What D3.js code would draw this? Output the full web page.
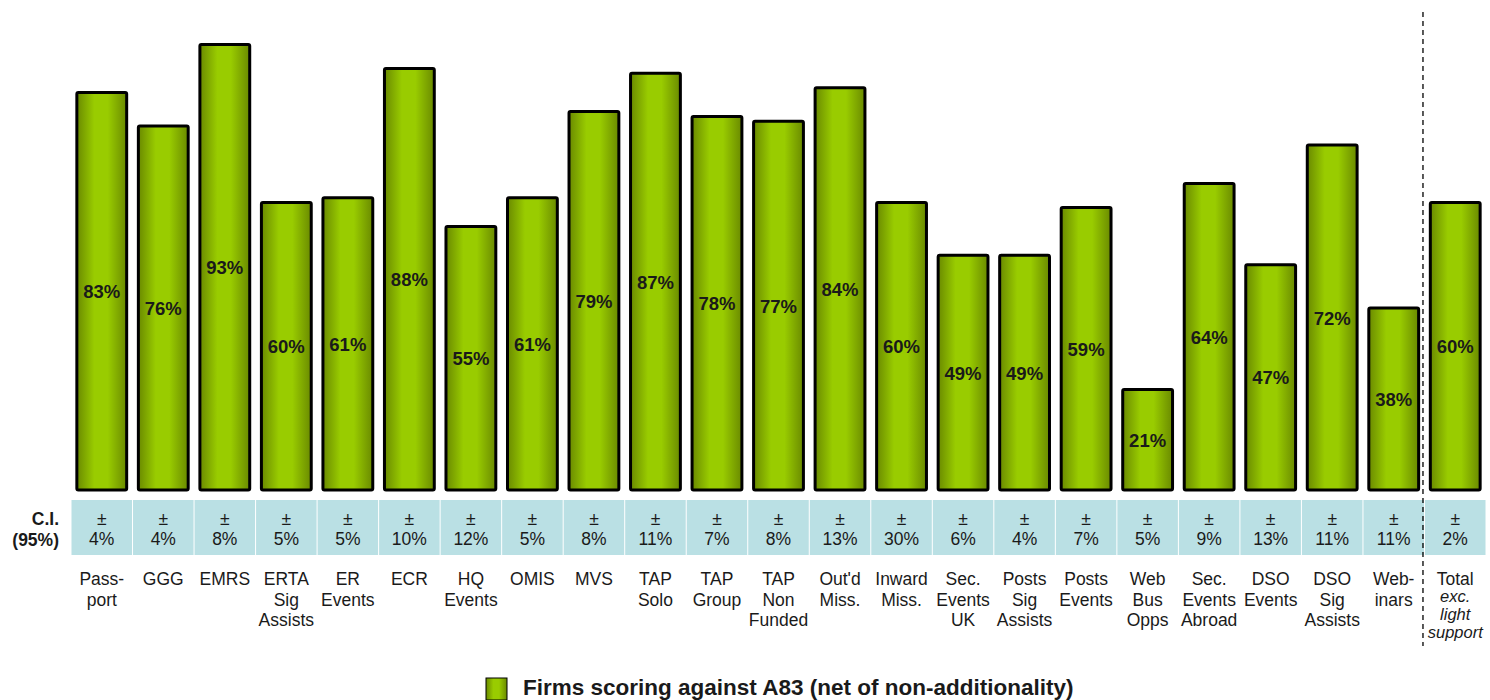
<!DOCTYPE html>
<html>
<head>
<meta charset="utf-8">
<script src="https://cdn.jsdelivr.net/npm/d3@7"></script>
<style>
  html, body { margin: 0; padding: 0; background: #fff; overflow: hidden; }
  svg { display: block; font-family: "Liberation Sans", Arial, sans-serif; }
</style>
</head>
<body>
<svg id="chart" width="1490" height="700"></svg>
<script>
// Programme categories (each entry is the list of label lines)
const categories = [
  ["Pass-", "port"], ["GGG"], ["EMRS"], ["ERTA", "Sig", "Assists"], ["ER", "Events"],
  ["ECR"], ["HQ", "Events"], ["OMIS"], ["MVS"], ["TAP", "Solo"], ["TAP", "Group"],
  ["TAP", "Non", "Funded"], ["Out'd", "Miss."], ["Inward", "Miss."], ["Sec.", "Events", "UK"],
  ["Posts", "Sig", "Assists"], ["Posts", "Events"], ["Web", "Bus", "Opps"], ["Sec.", "Events", "Abroad"],
  ["DSO", "Events"], ["DSO", "Sig", "Assists"], ["Web-", "inars"], ["Total", "exc.", "light", "support"]
];
// Share of firms scoring against A83 (%)
const values = [83, 76, 93, 60, 61, 88, 55, 61, 79, 87, 78, 77, 84, 60, 49, 49, 59, 21, 64, 47, 72, 38, 60];
// 95% confidence interval (± %)
const ciValues = [4, 4, 8, 5, 5, 10, 12, 5, 8, 11, 7, 8, 13, 30, 6, 4, 7, 5, 9, 13, 11, 11, 2];
const seriesName = "Firms scoring against A83 (net of non-additionality)";

const svg = d3.select("#chart");
const ids = categories.map((_, i) => i);

const x = d3.scaleBand().domain(ids).range([71, 1486]).padding(0);
const y = d3.scaleLinear().domain([0, 100]).range([490, 11]);
const barW = x.bandwidth() * 0.81;

// Horizontal shading for the bars
const defs = svg.append("defs");
const grad = defs.append("linearGradient").attr("id", "barGrad")
  .attr("x1", "0%").attr("x2", "100%").attr("y1", "0%").attr("y2", "0%");
[[0, "#6a8a00"], [0.35, "#99cc00"], [0.62, "#99cc00"], [1, "#6a8a00"]].forEach(([o, c]) =>
  grad.append("stop").attr("offset", o).attr("stop-color", c));

// Bars
svg.append("g").selectAll("rect").data(values).join("rect")
  .attr("x", (d, i) => x(i) + (x.bandwidth() - barW) / 2)
  .attr("y", d => y(d))
  .attr("width", barW)
  .attr("height", d => y(0) - y(d))
  .attr("rx", 1.5)
  .attr("fill", "url(#barGrad)")
  .attr("stroke", "#000")
  .attr("stroke-width", 3);

// Value labels centred in each bar
svg.append("g").selectAll("text").data(values).join("text")
  .attr("x", (d, i) => x(i) + x.bandwidth() / 2)
  .attr("y", d => (y(d) + y(0)) / 2 + 7)
  .attr("text-anchor", "middle")
  .attr("font-size", 18.5)
  .attr("font-weight", "bold")
  .attr("fill", "#1a1a1a")
  .text(d => d + "%");

// Confidence interval row
const ciTop = 500, ciH = 55;
svg.append("g").selectAll("rect").data(ciValues).join("rect")
  .attr("x", (d, i) => x(i) + 0.5)
  .attr("y", ciTop)
  .attr("width", x.bandwidth() - 1)
  .attr("height", ciH)
  .attr("fill", "#bae0e4");

const ciText = svg.append("g").selectAll("text").data(ciValues).join("text")
  .attr("text-anchor", "middle")
  .attr("font-size", 17.5)
  .attr("fill", "#1a1a1a");
ciText.append("tspan")
  .attr("x", (d, i) => x(i) + x.bandwidth() / 2)
  .attr("y", 525)
  .text("±");
ciText.append("tspan")
  .attr("x", (d, i) => x(i) + x.bandwidth() / 2)
  .attr("y", 545)
  .text(d => d + "%");

svg.append("text")
  .attr("x", 59).attr("y", 525)
  .attr("text-anchor", "end").attr("font-size", 17.5).attr("font-weight", "bold").attr("fill", "#1a1a1a")
  .text("C.I.");
svg.append("text")
  .attr("x", 59).attr("y", 546)
  .attr("text-anchor", "end").attr("font-size", 17.5).attr("font-weight", "bold").attr("fill", "#1a1a1a")
  .text("(95%)");

// Category labels
const last = categories.length - 1;
const catG = svg.append("g").selectAll("text").data(categories).join("text")
  .attr("text-anchor", "middle")
  .attr("fill", "#1a1a1a");
catG.each(function (lines, i) {
  const t = d3.select(this);
  const cx = x(i) + x.bandwidth() / 2;
  lines.forEach((ln, k) => {
    const italic = i === last && k > 0;
    t.append("tspan")
      .attr("x", cx)
      .attr("y", italic ? 602 + (k - 1) * 18 : 585 + k * 20.5)
      .attr("font-size", italic ? 16.5 : 17.5)
      .attr("font-style", italic ? "italic" : "normal")
      .text(ln);
  });
});

// Separator before the total
const sepX = x(last) - 1.5;
svg.append("line")
  .attr("x1", sepX).attr("x2", sepX)
  .attr("y1", 12).attr("y2", 646)
  .attr("stroke", "#000").attr("stroke-width", 1.3)
  .attr("stroke-dasharray", "5,4");

// Legend
const leg = svg.append("g").attr("transform", "translate(486,678)");
leg.append("rect").attr("width", 21).attr("height", 22)
  .attr("fill", "url(#barGrad)").attr("stroke", "#000").attr("stroke-width", 1);
leg.append("text").attr("x", 37).attr("y", 16.5)
  .attr("font-size", 22.5).attr("font-weight", "bold").attr("fill", "#1a1a1a")
  .text(seriesName);
</script>
</body>
</html>
